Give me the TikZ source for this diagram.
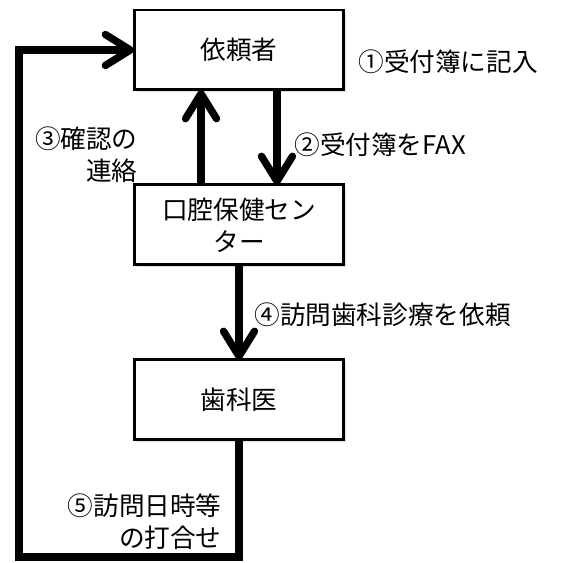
\documentclass[tikz,border=0pt]{standalone}
\usepackage{fontspec}
\setmainfont{Noto Sans CJK JP}
\usetikzlibrary{arrows.meta,positioning,shadows}

\begin{document}
\begin{tikzpicture}[x=0.02cm,y=-0.02cm,
    font=\fontsize{14.6pt}{18.2pt}\selectfont,
    box/.style={draw,line width=1.7pt,fill=white,minimum width=4.2cm,minimum height=1.6cm,
        outer sep=0pt,align=center,
        drop shadow={shadow xshift=0.05cm,shadow yshift=-0.05cm,opacity=0.25}},
    flow/.style={line width=4.2pt,-{Straight Barb[length=0.5cm,width=0.62cm,round]}},
    steplabel/.style={inner sep=0pt}]

\def\boxgap{1.9cm}
\def\armoffset{0.76cm}

\useasboundingbox (0,0) rectangle (565,563);

\node[box] (irai) at (239,50) {依頼者};
\node[box,below=\boxgap of irai] (center) {口腔保健セン\\ター};
\node[box,below=\boxgap of center] (shika) {歯科医};

\coordinate (corner) at (19,557);

\draw[flow] ([xshift=-\armoffset]center.north) -- ([xshift=-\armoffset]irai.south);
\draw[flow] ([xshift=\armoffset]irai.south) -- ([xshift=\armoffset]center.north);
\draw[flow] (center.south) -- (shika.north);
\draw[flow] (shika.south) |- (corner) |- (irai.west);

\node[steplabel,anchor=west] (step1) at (358,62) {①受付簿に記入};
\node[steplabel,anchor=west] (step2) at (294,145) {②受付簿をFAX};
\node[steplabel,anchor=east,align=right] (step3) at (138,155) {③確認の\\連絡};
\node[steplabel,anchor=west] (step4) at (254,315) {④訪問歯科診療を依頼};
\node[steplabel,anchor=east,align=right] (step5) at (222,522) {⑤訪問日時等\\の打合せ};

\end{tikzpicture}
\end{document}
